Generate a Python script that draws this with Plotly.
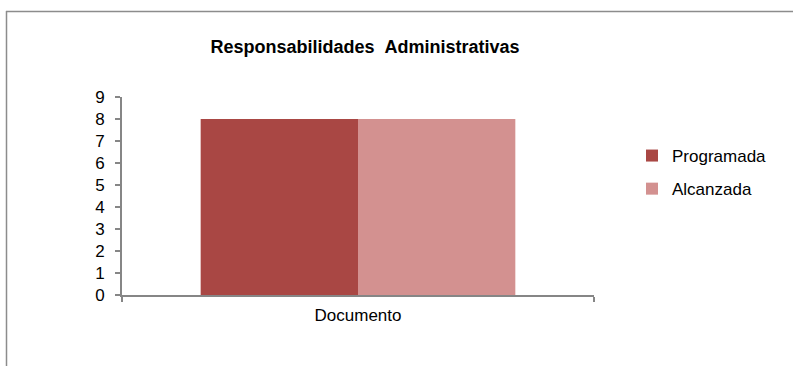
import plotly.graph_objects as go

categories = ["Documento"]
programada = [8]
alcanzada = [8]
series_names = ["Programada", "Alcanzada"]
colors = ["#A94744", "#D39190"]
title_text = "Responsabilidades\u00a0\u00a0Administrativas"

W, H = 793, 366
L, R, T, B = 122, 594, 97, 295  # plot area pixel bounds

def px_x(px):
    return (px - L) / (R - L)

def px_y(py):
    return (B - py) / (B - T)

fig = go.Figure()
fig.add_trace(go.Bar(x=categories, y=programada, name=series_names[0],
                     marker=dict(color=colors[0], line=dict(width=0)),
                     legendgroup="a"))
fig.add_trace(go.Bar(x=categories, y=alcanzada, name=series_names[1],
                     marker=dict(color=colors[1], line=dict(width=0)),
                     legendgroup="b"))

axis_color = "#868686"
fig.update_layout(
    width=W, height=H,
    margin=dict(l=L, r=W - R, t=T, b=H - B, pad=0),
    paper_bgcolor="white", plot_bgcolor="white",
    barmode="group", bargap=1/3, bargroupgap=0,
    font=dict(family="Liberation Sans, Arial, sans-serif", size=17, color="#000000"),
    title=dict(text="<b>" + title_text + "</b>",
               font=dict(family="Liberation Sans, Arial, sans-serif", size=18, color="#000"),
               x=365 / W, xanchor="center",
               y=1 - 47 / H, yanchor="middle"),
    showlegend=True,
    legend=dict(x=px_x(632), y=px_y(138), xanchor="left", yanchor="top",
                font=dict(size=17), tracegroupgap=8, traceorder="grouped",
                bgcolor="rgba(0,0,0,0)"),
    xaxis=dict(showline=True, linecolor=axis_color, linewidth=2,
               ticks="outside", tickson="boundaries", ticklen=5,
               tickcolor=axis_color, tickwidth=1.5, showgrid=False,
               ticklabelstandoff=4, tickfont=dict(size=17)),
    yaxis=dict(range=[0, 9], dtick=1, showline=True, linecolor=axis_color,
               linewidth=2, ticks="outside", ticklen=5, tickcolor=axis_color,
               tickwidth=1.5, showgrid=False, zeroline=False,
               ticklabelstandoff=7, tickfont=dict(size=17)),
    shapes=[
        dict(type="line", xref="paper", yref="paper",
             x0=px_x(6), x1=px_x(800), y0=px_y(11.5), y1=px_y(11.5),
             line=dict(color="#8C8C8C", width=1.5)),
        dict(type="line", xref="paper", yref="paper",
             x0=px_x(6.5), x1=px_x(6.5), y0=px_y(11), y1=px_y(380),
             line=dict(color="#8C8C8C", width=1.5)),
    ],
)

fig.write_html("out.html",
               config={"displayModeBar": False},
               post_script="document.body.style.margin='0';document.body.style.overflow='hidden';")
